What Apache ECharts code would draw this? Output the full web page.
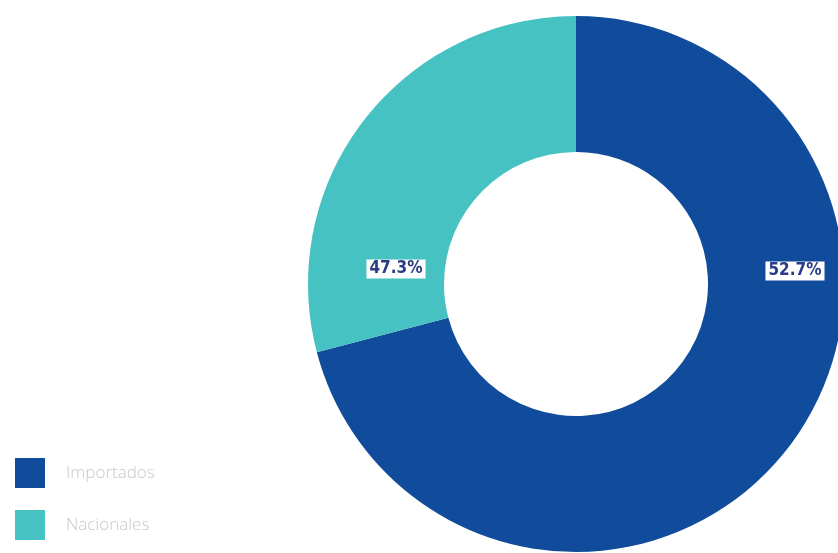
<!DOCTYPE html>
<html>
<head>
<meta charset="utf-8">
<script src="https://cdn.jsdelivr.net/npm/echarts@6/dist/echarts.min.js"></script>
<style>html,body{margin:0;padding:0;background:#fff}#c{width:838px;height:553px}</style>
</head>
<body>
<div id="c"></div>
<script>
// Categories and values (slice sizes as drawn; labels as printed)
const categories = ['Importados', 'Nacionales'];
const sliceValues = [70.9, 29.1];
const labelTexts = ['52.7%', '47.3%'];
const colors = ['#114b9b', '#46c2c2'];

const chart = echarts.init(document.getElementById('c'));
const labelPos = [[795, 271], [396, 269]];
chart.setOption({
  animation: false,
  legend: {
    orient: 'vertical',
    left: 10,
    top: 453,
    itemWidth: 30,
    itemHeight: 30,
    itemGap: 22,
    icon: 'rect',
    data: categories,
    textStyle: { color: '#c8c8c8', fontSize: 17, fontFamily: 'Open Sans', fontWeight: 300, padding: [0, 0, 0, 16] }
  },
  series: [{
    type: 'pie',
    center: [576, 284],
    radius: [132, 268],
    startAngle: 90,
    clockwise: true,
    color: colors,
    label: {
      show: true,
      position: 'inside',
      formatter: p => labelTexts[p.dataIndex],
      color: '#2a3c86',
      fontSize: 17,
      fontWeight: 'bold',
      fontFamily: 'DejaVu Sans Condensed',
      backgroundColor: '#ffffff',
      padding: [1, 3]
    },
    labelLayout: p => ({ x: labelPos[p.dataIndex][0], y: labelPos[p.dataIndex][1], align: 'center', verticalAlign: 'middle' }),
    emphasis: { disabled: true },
    data: categories.map((c, i) => ({ name: c, value: sliceValues[i] }))
  }]
});
</script>
</body>
</html>
